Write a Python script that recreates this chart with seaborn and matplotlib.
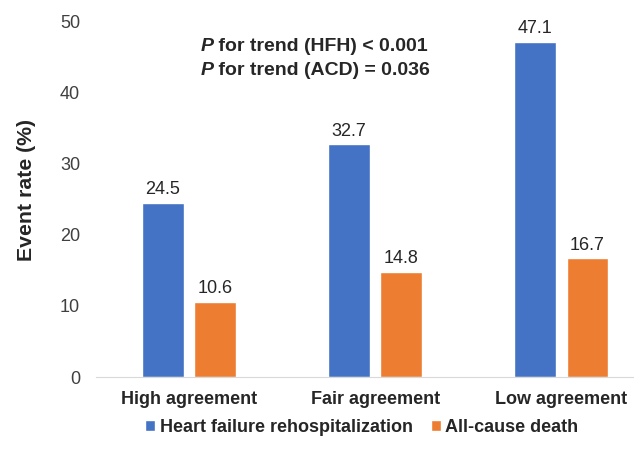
import pandas as pd
import numpy as np
import matplotlib
matplotlib.use('Agg')
import matplotlib.pyplot as plt
import seaborn as sns

# data
groups = ['High agreement', 'Fair agreement', 'Low agreement']
series = ['Heart failure rehospitalization', 'All-cause death']
hfh = [24.5, 32.7, 47.1]
acd = [10.6, 14.8, 16.7]
trend_lines = [' for trend (HFH) < 0.001', ' for trend (ACD) = 0.036']
colors = ['#4472C4', '#ED7D31']

df = pd.DataFrame({
    'group': groups * 2,
    'series': [series[0]] * 3 + [series[1]] * 3,
    'rate': hfh + acd,
})

sns.set_style('white')
plt.rcParams['font.family'] = ['Liberation Sans', 'DejaVu Sans']

fig = plt.figure(figsize=(6.34, 4.53), dpi=100)
ax = fig.add_axes([96 / 634, 76 / 453, 1 - 96 / 634, (377 - 21) / 453])

sns.barplot(data=df, x='group', y='rate', hue='series', order=groups,
            hue_order=series, palette=colors, width=0.56, gap=0.2,
            saturation=1, ax=ax, legend=True)

for cont in ax.containers:
    ax.bar_label(cont, fmt='%.1f', padding=3, fontsize=13, color='#262626')

ax.set_ylim(0, 50)
ax.set_xlim(-0.5, 2.39)
ax.set_yticks(range(0, 51, 10))
ax.tick_params(axis='y', labelsize=13, colors='#404040', length=0, pad=11.5)
ax.tick_params(axis='x', labelsize=13, length=0, pad=10)
for lbl in ax.get_xticklabels():
    lbl.set_fontweight('bold')
ax.set_xlabel('')
ax.set_ylabel('Event rate (%)', fontsize=15.3, fontweight='bold')
ax.yaxis.set_label_coords(-0.112, 0.525)

for s in ['top', 'right', 'left']:
    ax.spines[s].set_visible(False)
ax.spines['bottom'].set_color('#D9D9D9')

# p for trend text with italic P
for i, line in enumerate(trend_lines):
    t = ax.text(0.06, 45.8 - i * 3.4, 'P', fontsize=14, fontweight='bold',
                fontstyle='italic', va='baseline', ha='left')
    ax.annotate(line, xy=(1, 0), xycoords=t, va='bottom', ha='left',
                fontsize=14, fontweight='bold')

leg = ax.legend(loc='center', bbox_to_anchor=(0.494, -0.142),
                ncol=2, frameon=False, fontsize=13, handlelength=0.55,
                handleheight=0.55, handletextpad=0.25, columnspacing=1.0)
for txt in leg.get_texts():
    txt.set_fontweight('bold')

fig.savefig('out.png', dpi=100)
